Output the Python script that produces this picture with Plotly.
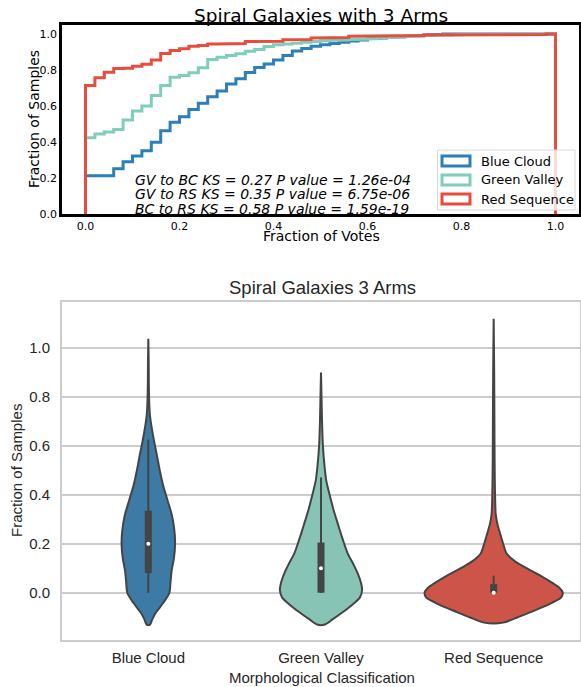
import numpy as np
import plotly.graph_objects as go

W, H = 581, 687

# ---------------- Top panel data (cumulative fraction per bin, 50 bins on [0,1]) ----------------
bin_edges = np.linspace(0.0, 1.0, 51)
series_names = ["Blue Cloud", "Green Valley", "Red Sequence"]
line_colors = ["#2c7fb8", "#7fcdbb", "#e74c3c"]

blue_cum = [0.213, 0.213, 0.213, 0.252, 0.290, 0.322, 0.352, 0.398, 0.463, 0.510,
            0.540, 0.580, 0.615, 0.652, 0.683, 0.722, 0.752, 0.786, 0.814, 0.834,
            0.855, 0.880, 0.905, 0.920, 0.932, 0.940, 0.947, 0.954, 0.961, 0.967,
            0.973, 0.977, 0.981, 0.985, 0.988, 0.991, 0.995, 0.998, 1.000, 1.000,
            1.000, 1.000, 1.000, 1.000, 1.000, 1.000, 1.000, 1.000, 1.000, 1.000]
green_cum = [0.424, 0.444, 0.456, 0.470, 0.522, 0.572, 0.600, 0.658, 0.714, 0.760,
             0.770, 0.785, 0.812, 0.858, 0.871, 0.880, 0.890, 0.904, 0.914, 0.930,
             0.940, 0.944, 0.949, 0.954, 0.958, 0.962, 0.965, 0.967, 0.969, 0.971,
             0.974, 0.977, 0.981, 0.984, 0.986, 0.988, 0.991, 0.993, 0.995, 0.996,
             0.997, 0.998, 0.998, 0.999, 0.999, 1.000, 1.000, 1.000, 1.000, 1.000]
red_cum = [0.714, 0.757, 0.788, 0.809, 0.810, 0.821, 0.832, 0.855, 0.892, 0.908,
           0.918, 0.932, 0.936, 0.945, 0.945, 0.946, 0.947, 0.958, 0.958, 0.959,
           0.960, 0.968, 0.969, 0.970, 0.978, 0.979, 0.980, 0.981, 0.988, 0.989,
           0.989, 0.990, 0.990, 0.991, 0.991, 0.992, 0.995, 0.995, 0.995, 0.995,
           0.995, 0.995, 0.995, 0.996, 0.996, 0.996, 0.996, 0.996, 0.997, 1.000]
top_ticks = [0.0, 0.2, 0.4, 0.6, 0.8, 1.0]

ks_lines = ["GV to BC KS = 0.27 P value = 1.26e-04",
            "GV to RS KS = 0.35 P value = 6.75e-06",
            "BC to RS KS = 0.58 P value = 1.59e-19"]

# ---------------- Bottom panel data (violin profiles) ----------------
categories = ["Blue Cloud", "Green Valley", "Red Sequence"]
violin_fill = ["#3d7aa6", "#87c4b5", "#cd5448"]

blue_levels = [-0.13, -0.11, -0.08, -0.04, 0.0, 0.04, 0.09, 0.14, 0.20, 0.26, 0.32,
               0.38, 0.44, 0.50, 0.56, 0.62, 0.68, 0.72, 0.78, 0.85, 0.95, 1.037]
blue_halfwidth = [0.010, 0.022, 0.045, 0.088, 0.122, 0.128, 0.135, 0.148, 0.155, 0.150, 0.135,
                  0.110, 0.085, 0.066, 0.050, 0.033, 0.018, 0.010, 0.005, 0.003, 0.002, 0.0]

green_levels = [-0.13, -0.11, -0.08, -0.05, -0.02, 0.01, 0.04, 0.08, 0.12, 0.16,
                0.22, 0.28, 0.34, 0.40, 0.46, 0.52, 0.60, 0.70, 0.80, 0.899]
green_halfwidth = [0.022, 0.065, 0.125, 0.180, 0.225, 0.238, 0.232, 0.212, 0.185, 0.155,
                   0.125, 0.098, 0.072, 0.050, 0.030, 0.020, 0.011, 0.006, 0.003, 0.0]

red_levels = [-0.122, -0.10, -0.08, -0.06, -0.04, -0.02, 0.0, 0.02, 0.04, 0.07, 0.10, 0.13,
              0.16, 0.20, 0.24, 0.28, 0.32, 0.40, 0.50, 0.60, 0.75, 0.90, 1.119]
red_halfwidth = [0.055, 0.140, 0.210, 0.280, 0.340, 0.390, 0.400, 0.380, 0.340, 0.270, 0.190, 0.120,
                 0.075, 0.055, 0.038, 0.022, 0.012, 0.008, 0.006, 0.005, 0.004, 0.003, 0.0]

whisker_low = [0.0, 0.0, -0.005]
whisker_high = [0.625, 0.47, 0.07]
box_q1 = [0.08, 0.0, 0.0]
box_q3 = [0.335, 0.205, 0.035]
medians = [0.2, 0.1, 0.0]
bottom_ticks = [0.0, 0.2, 0.4, 0.6, 0.8, 1.0]

fig = go.Figure()

# ---- top: cumulative step histograms ----
for cum, name, col in zip([blue_cum, green_cum, red_cum], series_names, line_colors):
    xs, ys = [bin_edges[0]], [0.0]
    for i, v in enumerate(cum):
        xs += [bin_edges[i], bin_edges[i + 1]]
        ys += [v, v]
    xs.append(bin_edges[-1])
    ys.append(0.0)
    fig.add_trace(go.Scatter(x=xs, y=ys, mode="lines", name=name,
                             line=dict(color=col, width=3), xaxis="x", yaxis="y",
                             hoverinfo="skip"))

# ---- bottom: violins ----
profiles = [(blue_levels, blue_halfwidth), (green_levels, green_halfwidth),
            (red_levels, red_halfwidth)]
for k, (lv, hw) in enumerate(profiles):
    lv = np.array(lv)
    hw = np.array(hw)
    px_ = np.concatenate([k + hw, (k - hw)[::-1], [k + hw[0]]])
    py_ = np.concatenate([lv, lv[::-1], [lv[0]]])
    fig.add_trace(go.Scatter(x=px_, y=py_, mode="lines", fill="toself",
                             fillcolor=violin_fill[k],
                             line=dict(color="#444444", width=2, shape="spline", smoothing=0.8),
                             xaxis="x2", yaxis="y2", hoverinfo="skip"))
    fig.add_trace(go.Scatter(x=[k, k], y=[whisker_low[k], whisker_high[k]], mode="lines",
                             line=dict(color="#444444", width=2),
                             xaxis="x2", yaxis="y2", hoverinfo="skip"))
    fig.add_trace(go.Scatter(x=[k, k], y=[box_q1[k], box_q3[k]], mode="lines",
                             line=dict(color="#444444", width=7),
                             xaxis="x2", yaxis="y2", hoverinfo="skip"))
    fig.add_trace(go.Scatter(x=[k], y=[medians[k]], mode="markers",
                             marker=dict(color="white", size=4),
                             xaxis="x2", yaxis="y2", hoverinfo="skip"))


def pxx(v):
    return v / W


def pxy(v):
    return 1 - v / H


top_font = dict(family="DejaVu Sans", color="black")
bot_font = dict(family="Liberation Sans, Arial", color="#262626")

annotations = []
annotations.append(dict(text="Spiral Galaxies with 3 Arms", x=pxx(321), y=pxy(15), xref="paper",
                        yref="paper", showarrow=False, xanchor="center", yanchor="middle",
                        font=dict(size=18.5, **top_font)))
annotations.append(dict(text="Fraction of Votes", x=pxx(321), y=pxy(236), xref="paper",
                        yref="paper", showarrow=False, xanchor="center", yanchor="middle",
                        font=dict(size=14, **top_font)))
annotations.append(dict(text="Fraction of Samples", x=pxx(34), y=pxy(119), xref="paper",
                        yref="paper", showarrow=False, xanchor="center", yanchor="middle",
                        textangle=-90, font=dict(size=14, **top_font)))
for i, t in enumerate(ks_lines):
    annotations.append(dict(text="<i>" + t + "</i>", x=pxx(133), y=pxy(180 + 14.3 * i),
                            xref="paper", yref="paper", showarrow=False, xanchor="left",
                            yanchor="middle", font=dict(size=14, **top_font)))

shapes = []
# legend box
shapes.append(dict(type="rect", xref="paper", yref="paper", x0=pxx(437.5), x1=pxx(575),
                   y0=pxy(210), y1=pxy(150), fillcolor="rgba(255,255,255,0.8)",
                   line=dict(color="#d8d8d8", width=1), layer="above"))
for i, (name, col) in enumerate(zip(series_names, line_colors)):
    cy = 161 + 19 * i
    shapes.append(dict(type="rect", xref="paper", yref="paper", x0=pxx(442), x1=pxx(470),
                       y0=pxy(cy + 5), y1=pxy(cy - 5), fillcolor="rgba(0,0,0,0)",
                       line=dict(color=col, width=3), layer="above"))
    annotations.append(dict(text=name, x=pxx(479), y=pxy(cy), xref="paper", yref="paper",
                            showarrow=False, xanchor="left", yanchor="middle",
                            font=dict(size=13, **top_font)))

annotations.append(dict(text="Spiral Galaxies 3 Arms", x=pxx(322), y=pxy(287), xref="paper",
                        yref="paper", showarrow=False, xanchor="center", yanchor="middle",
                        font=dict(size=18.5, **bot_font)))
annotations.append(dict(text="Morphological Classification", x=pxx(322), y=pxy(677), xref="paper",
                        yref="paper", showarrow=False, xanchor="center", yanchor="middle",
                        font=dict(size=15, **bot_font)))
annotations.append(dict(text="Fraction of Samples", x=pxx(16), y=pxy(471), xref="paper",
                        yref="paper", showarrow=False, xanchor="center", yanchor="middle",
                        textangle=-90, font=dict(size=15, **bot_font)))

fig.update_layout(
    width=W, height=H, margin=dict(l=0, r=0, t=0, b=0),
    paper_bgcolor="white", plot_bgcolor="white", showlegend=False,
    annotations=annotations, shapes=shapes,
    xaxis=dict(domain=[pxx(62), pxx(579)], range=[-0.05, 1.05], anchor="y",
               tickvals=top_ticks, ticktext=[f"{v:.1f}" for v in top_ticks],
               showline=True, mirror=True, linecolor="black", linewidth=2.5,
               showgrid=False, zeroline=False, ticks="", automargin=False,
               tickfont=dict(size=11, **top_font)),
    yaxis=dict(domain=[pxy(214), pxy(25)], range=[0, 1.05], anchor="x",
               tickvals=top_ticks, ticktext=[f"{v:.1f}" for v in top_ticks],
               showline=True, mirror=True, linecolor="black", linewidth=2.5,
               showgrid=False, zeroline=False, ticks="", automargin=False,
               tickfont=dict(size=11, **top_font)),
    xaxis2=dict(domain=[pxx(62), pxx(580)], range=[-0.5, 2.5], anchor="y2",
                tickvals=[0, 1, 2], ticktext=categories,
                showline=True, mirror=True, linecolor="#cccccc", linewidth=2,
                showgrid=False, zeroline=False, ticks="outside", ticklen=3,
                tickcolor="rgba(0,0,0,0)", automargin=False,
                tickfont=dict(size=15, **bot_font)),
    yaxis2=dict(domain=[pxy(640), pxy(302)], range=[-0.193, 1.187], anchor="x2",
                tickvals=bottom_ticks, ticktext=[f"{v:.1f}" for v in bottom_ticks],
                showline=True, mirror=True, linecolor="#cccccc", linewidth=2,
                showgrid=True, gridcolor="#cccccc", gridwidth=2, zeroline=False,
                ticks="outside", ticklen=7, tickcolor="rgba(0,0,0,0)", automargin=False,
                tickfont=dict(size=15, **bot_font)),
)

fig.write_html("out.html", post_script="document.body.style.margin='0px';",
               config={"displayModeBar": False})
